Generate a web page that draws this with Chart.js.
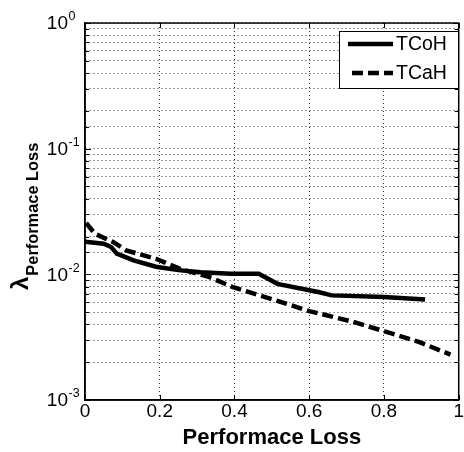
<!DOCTYPE html>
<html>
<head>
<meta charset="utf-8">
<script src="https://cdn.jsdelivr.net/npm/chart.js@4/dist/chart.umd.min.js"></script>
<style>
  html, body { margin: 0; padding: 0; background: #fff; }
  #wrap { width: 464px; height: 452px; }
</style>
</head>
<body>
<div id="wrap"><canvas id="c" width="464" height="452"></canvas></div>
<script>
// ---- data ----
const seriesLabels = ['TCoH', 'TCaH'];
const xTCoH = [0, 0.05, 0.07, 0.085, 0.13, 0.19, 0.25, 0.31, 0.39, 0.465, 0.515, 0.627, 0.66, 0.8, 0.91];
const yTCoH = [0.0182, 0.0175, 0.0165, 0.0146, 0.0129, 0.0115, 0.0108, 0.0104, 0.0101, 0.0101, 0.0084, 0.0072, 0.0068, 0.0066, 0.0063];
const xTCaH = [0.003, 0.027, 0.075, 0.11, 0.19, 0.253, 0.333, 0.396, 0.511, 0.6, 0.716, 0.804, 0.893, 0.978];
const yTCaH = [0.0256, 0.021, 0.0181, 0.0155, 0.0133, 0.0111, 0.0095, 0.0079, 0.0062, 0.0051, 0.0042, 0.0035, 0.0029, 0.0023];
const xTickValues = [0, 0.2, 0.4, 0.6, 0.8, 1];
const xTickLabels = ['0', '0.2', '0.4', '0.6', '0.8', '1'];
const yTickExponents = ['0', '-1', '-2', '-3'];
const xTitle = 'Performace Loss';
const yTitleMain = 'λ';
const yTitleSub = 'Performace Loss';

const FONT = "'Liberation Sans', Arial, sans-serif";

const toPoints = (xs, ys) => xs.map((x, i) => ({ x: x, y: ys[i] }));

const framePlugin = {
  id: 'frame',
  afterDraw(chart) {
    const { ctx, chartArea: a, scales } = chart;
    const ys = scales.y;
    ctx.save();
    ctx.strokeStyle = '#000';
    ctx.lineWidth = 1;
    ys.ticks.forEach(t => {
      const py = Math.round(ys.getPixelForValue(t.value)) + 0.5;
      const len = (Math.abs(Math.log10(t.value) - Math.round(Math.log10(t.value))) < 1e-9) ? 6 : 4;
      ctx.beginPath();
      ctx.moveTo(a.left, py); ctx.lineTo(a.left + len, py);
      ctx.moveTo(a.right, py); ctx.lineTo(a.right - len, py);
      ctx.stroke();
    });
    const xs = scales.x;
    xs.ticks.forEach(t => {
      const px = Math.round(xs.getPixelForValue(t.value)) + 0.5;
      ctx.beginPath();
      ctx.moveTo(px, a.bottom); ctx.lineTo(px, a.bottom - 5);
      ctx.moveTo(px, a.top); ctx.lineTo(px, a.top + 5);
      ctx.stroke();
    });
    ctx.lineWidth = 1.5;
    ctx.strokeRect(a.left, a.top, a.right - a.left, a.bottom - a.top);

    ctx.fillStyle = '#000';
    yTickExponents.forEach(e => {
      const py = ys.getPixelForValue(Math.pow(10, Number(e)));
      ctx.font = '19px ' + FONT;
      ctx.textAlign = 'right';
      ctx.textBaseline = 'middle';
      ctx.fillText('10', 68, py + 1);
      ctx.font = '12.5px ' + FONT;
      ctx.textAlign = 'left';
      ctx.fillText(e, 68.5, py - 6);
    });

    ctx.save();
    ctx.translate(28, 290);
    ctx.rotate(-Math.PI / 2);
    ctx.textAlign = 'left';
    ctx.textBaseline = 'alphabetic';
    ctx.font = 'bold 24px ' + FONT;
    ctx.fillText(yTitleMain, 0, 0);
    const w = ctx.measureText(yTitleMain).width;
    ctx.font = 'bold 16.4px ' + FONT;
    ctx.fillText(yTitleSub, w + 1, 10);
    ctx.restore();

    const lx = 339, ly = 31, lw = 119, lh = 57;
    ctx.fillStyle = '#fff';
    ctx.fillRect(lx, ly, lw, lh);
    ctx.strokeStyle = '#000';
    ctx.lineWidth = 1;
    ctx.strokeRect(lx + 0.5, ly + 0.5, lw, lh);
    const rows = [44, 73];
    chart.data.datasets.forEach((ds, i) => {
      const ry = rows[i];
      ctx.save();
      ctx.strokeStyle = ds.borderColor;
      ctx.lineWidth = ds.borderWidth;
      ctx.setLineDash(ds.borderDash || []);
      ctx.beginPath();
      if (i === 0) { ctx.moveTo(348, ry); ctx.lineTo(393, ry); }
      else { ctx.moveTo(352, ry); ctx.lineTo(393, ry); }
      ctx.stroke();
      ctx.restore();
      ctx.fillStyle = '#000';
      ctx.font = '19.5px ' + FONT;
      ctx.textAlign = 'left';
      ctx.textBaseline = 'middle';
      ctx.fillText(ds.label, 396, ry + 1);
    });
    ctx.restore();
  }
};

new Chart(document.getElementById('c'), {
  type: 'line',
  data: {
    datasets: [
      {
        label: seriesLabels[0],
        data: toPoints(xTCoH, yTCoH),
        borderColor: '#000',
        borderWidth: 4.5,
        pointRadius: 0,
        tension: 0,
        fill: false
      },
      {
        label: seriesLabels[1],
        data: toPoints(xTCaH, yTCaH),
        borderColor: '#000',
        borderWidth: 4.5,
        borderDash: [11, 5],
        pointRadius: 0,
        tension: 0,
        fill: false
      }
    ]
  },
  options: {
    responsive: false,
    animation: false,
    devicePixelRatio: 1,
    layout: { padding: { top: 23, right: 3, left: 0, bottom: 0 } },
    plugins: { legend: { display: false }, tooltip: { enabled: false } },
    scales: {
      x: {
        type: 'linear',
        min: 0, max: 1,
        afterBuildTicks: s => { s.ticks = xTickValues.map(v => ({ value: v })); },
        afterFit: s => { s.height = 52; },
        ticks: {
          callback: (v, i) => xTickLabels[i],
          color: '#000',
          font: { family: FONT, size: 19 },
          padding: 0,
          maxRotation: 0,
          autoSkip: false
        },
        grid: { color: '#333', drawTicks: false },
        border: { display: true, color: '#000', width: 1.5, dash: [1, 3] },
        title: {
          display: true,
          text: xTitle,
          color: '#000',
          font: { family: FONT, size: 22, weight: 'bold' },
          padding: { top: 0, bottom: 1 }
        }
      },
      y: {
        type: 'logarithmic',
        min: 0.001, max: 1,
        afterFit: s => { s.width = 85; },
        ticks: { display: false },
        grid: { color: '#333', drawTicks: false },
        border: { display: true, color: '#000', width: 1.5, dash: [1, 3] }
      }
    }
  },
  plugins: [framePlugin]
});
</script>
</body>
</html>
